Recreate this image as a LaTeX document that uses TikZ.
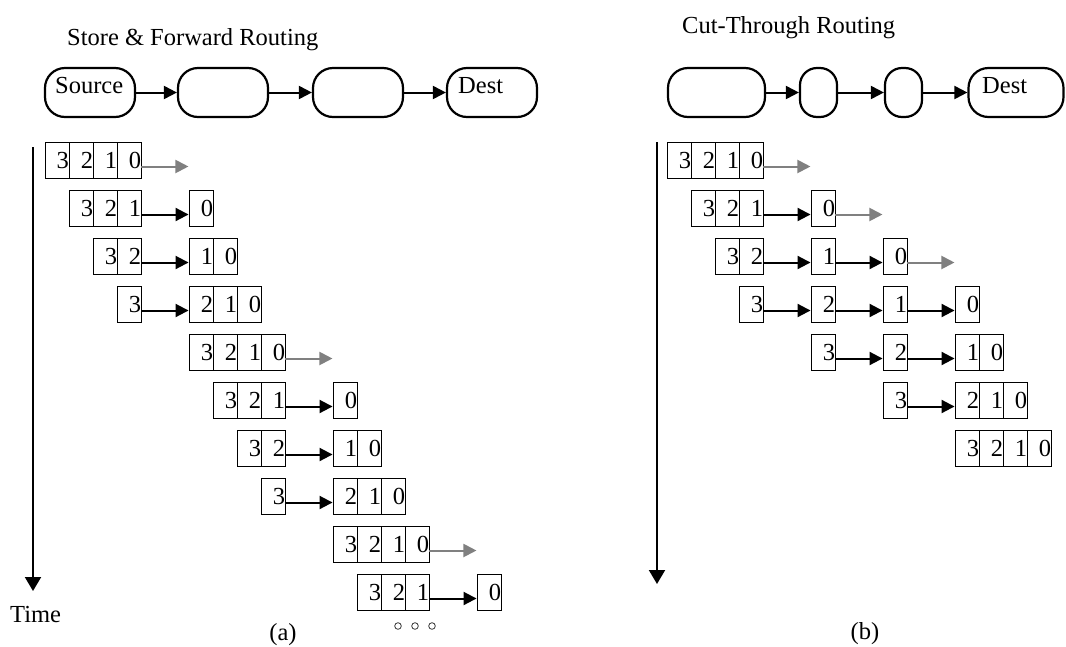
\documentclass[tikz,border=0pt]{standalone}
\usepackage{fontspec}
\setmainfont{Liberation Serif}
\usetikzlibrary{arrows.meta}
\newcommand\fnt{\fontsize{24.5}{29}\selectfont}
\tikzset{
  cell/.style={draw=black, line width=0.9pt, minimum width=24pt, minimum height=36pt,
    inner sep=0pt, text width=24pt, align=right, font=\fnt},
  router/.style={draw=black, line width=2.2pt, rounded corners=20pt, minimum height=49pt, inner sep=0pt},
  srouter/.style={router, rounded corners=17pt, minimum width=37pt},
  conn/.style={line width=2pt, draw=black, -{Triangle[length=13pt,width=13pt]}},
  garr/.style={conn, draw=black!50},
  axis/.style={line width=2pt, draw=black, -{Triangle[length=14pt,width=16pt]}},
  lbl/.style={inner sep=0pt, font=\fnt},
}
% #1 name, #2 x origin, #3 start column, #4 row, #5 digits
\newcommand\piece[5]{%
  \foreach \d [count=\i from 0] in {#5} {
    \node[cell] (#1-\i) at ({#2+24*(#3+\i)+12},{142+48*#4+18.5}) {\d};
  }%
}
\newcommand\link[2]{\draw[conn] ([yshift=-6pt]#1.east) -- ([yshift=-6pt]#2.west);}
\newcommand\glink[2]{%
  \coordinate (#2) at ([xshift=47pt,yshift=-6pt]#1.east);
  \draw[garr] ([yshift=-6pt]#1.east) -- (#2);}
\begin{document}
\begin{tikzpicture}[x=1pt,y=-1pt]
\useasboundingbox (0,0) rectangle (1066,646);
% titles
\node[lbl, anchor=base west] (ttl1) at (67,45) {Store \& Forward Routing};
\node[lbl, anchor=base west] (ttl2) at (682,33) {Cut-Through Routing};
% left routers
\node[router, minimum width=90pt] (s1) at (90,92.5) {};
\node[router, minimum width=90pt] (s2) at (223,92.5) {};
\node[router, minimum width=90pt] (s3) at (358,92.5) {};
\node[router, minimum width=90pt] (s4) at (492,92.5) {};
\node[lbl, anchor=base west] (srcl) at (55,93) {Source};
\node[lbl, anchor=base west] (dstl) at (458,93) {Dest};
\draw[conn] (s1.east) -- (s2.west);
\draw[conn] (s2.east) -- (s3.west);
\draw[conn] (s3.east) -- (s4.west);
% right routers
\node[router, minimum width=97pt] (c1) at (716.5,92.5) {};
\node[srouter] (c2) at (818.5,92.5) {};
\node[srouter] (c3) at (903.5,92.5) {};
\node[router, minimum width=95pt] (c4) at (1016,92.5) {};
\node[lbl, anchor=base west] (dstr) at (982,93) {Dest};
\draw[conn] (c1.east) -- (c2.west);
\draw[conn] (c2.east) -- (c3.west);
\draw[conn] (c3.east) -- (c4.west);
% time axes
\coordinate (ta0) at (33,147);
\coordinate (ta1) at (33,591);
\draw[axis] (ta0) -- (ta1);
\coordinate (tb0) at (657,142);
\coordinate (tb1) at (657,584);
\draw[axis] (tb0) -- (tb1);
\node[lbl, anchor=base west] (time) at (10,622) {Time};
% store & forward packets
\piece{L0a}{45}{0}{0}{3,2,1,0}
\glink{L0a-3}{g0}
\piece{L1a}{45}{1}{1}{3,2,1}
\piece{L1b}{45}{6}{1}{0}
\link{L1a-2}{L1b-0}
\piece{L2a}{45}{2}{2}{3,2}
\piece{L2b}{45}{6}{2}{1,0}
\link{L2a-1}{L2b-0}
\piece{L3a}{45}{3}{3}{3}
\piece{L3b}{45}{6}{3}{2,1,0}
\link{L3a-0}{L3b-0}
\piece{L4a}{45}{6}{4}{3,2,1,0}
\glink{L4a-3}{g4}
\piece{L5a}{45}{7}{5}{3,2,1}
\piece{L5b}{45}{12}{5}{0}
\link{L5a-2}{L5b-0}
\piece{L6a}{45}{8}{6}{3,2}
\piece{L6b}{45}{12}{6}{1,0}
\link{L6a-1}{L6b-0}
\piece{L7a}{45}{9}{7}{3}
\piece{L7b}{45}{12}{7}{2,1,0}
\link{L7a-0}{L7b-0}
\piece{L8a}{45}{12}{8}{3,2,1,0}
\glink{L8a-3}{g8}
\piece{L9a}{45}{13}{9}{3,2,1}
\piece{L9b}{45}{18}{9}{0}
\link{L9a-2}{L9b-0}
\foreach \x in {398,415,432} \draw[line width=0.8pt, black!80] (\x,626) circle (3.3pt);
\node[lbl, anchor=base] (capa) at (283,640.5) {(a)};
% cut-through packets
\piece{R0a}{667}{0}{0}{3,2,1,0}
\glink{R0a-3}{h0}
\piece{R1a}{667}{1}{1}{3,2,1}
\piece{R1b}{667}{6}{1}{0}
\link{R1a-2}{R1b-0}
\glink{R1b-0}{h1}
\piece{R2a}{667}{2}{2}{3,2}
\piece{R2b}{667}{6}{2}{1}
\piece{R2c}{667}{9}{2}{0}
\link{R2a-1}{R2b-0}
\link{R2b-0}{R2c-0}
\glink{R2c-0}{h2}
\piece{R3a}{667}{3}{3}{3}
\piece{R3b}{667}{6}{3}{2}
\piece{R3c}{667}{9}{3}{1}
\piece{R3d}{667}{12}{3}{0}
\link{R3a-0}{R3b-0}
\link{R3b-0}{R3c-0}
\link{R3c-0}{R3d-0}
\piece{R4a}{667}{6}{4}{3}
\piece{R4b}{667}{9}{4}{2}
\piece{R4c}{667}{12}{4}{1,0}
\link{R4a-0}{R4b-0}
\link{R4b-0}{R4c-0}
\piece{R5a}{667}{9}{5}{3}
\piece{R5b}{667}{12}{5}{2,1,0}
\link{R5a-0}{R5b-0}
\piece{R6a}{667}{12}{6}{3,2,1,0}
\node[lbl, anchor=base] (capb) at (865,639) {(b)};
\end{tikzpicture}
\end{document}
